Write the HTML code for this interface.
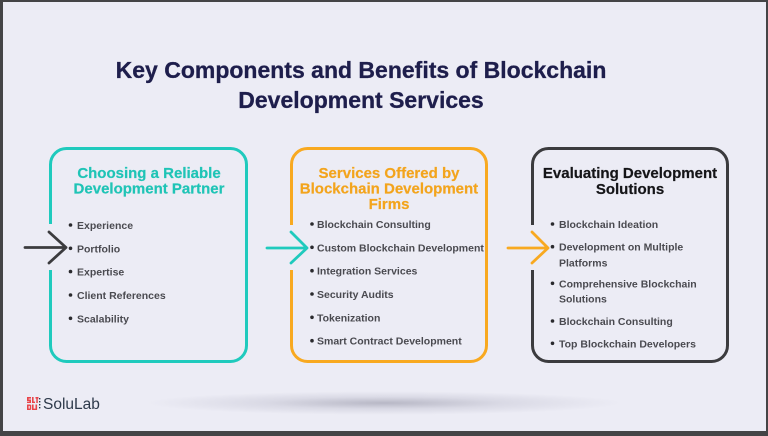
<!DOCTYPE html>
<html>
<head>
<meta charset="utf-8">
<style>
  html, body { margin:0; padding:0; }
  body { width:768px; height:436px; background:#444446; position:relative; overflow:hidden; }
  #frame { position:absolute; left:3px; top:2px; width:763px; height:429px; background:#ECECF5; overflow:hidden; }
  svg { position:absolute; left:0; top:0; }
  .shadow { position:absolute; left:144px; top:391px; width:480px; height:24px;
    background:radial-gradient(ellipse at center, rgba(140,140,158,0.55) 0%, rgba(170,170,188,0.28) 35%, rgba(236,236,245,0) 70%); }
</style>
</head>
<body>
<div id="frame"></div>
<div class="shadow"></div>
<svg width="768" height="436" viewBox="0 0 768 436" xmlns="http://www.w3.org/2000/svg">
  <!-- Title -->
  <g font-family="Liberation Sans, Arial, sans-serif" font-weight="bold" fill="#1E1E4C" font-size="23" text-anchor="middle" stroke="#1E1E4C" stroke-width="0.3">
    <text x="361" y="78">Key Components and Benefits of Blockchain</text>
    <text x="361" y="108">Development Services</text>
  </g>

  <!-- Boxes -->
  <rect x="50.5" y="148.5" width="196" height="213" rx="16" ry="16" fill="none" stroke="#1FCABD" stroke-width="3"/>
  <rect x="291.5" y="148.5" width="195" height="213" rx="16" ry="16" fill="none" stroke="#F8A920" stroke-width="3"/>
  <rect x="532.5" y="148.5" width="195" height="213" rx="16" ry="16" fill="none" stroke="#3B3B3E" stroke-width="3"/>

  <!-- gaps in left borders -->
  <rect x="47" y="224" width="8" height="46" fill="#ECECF5"/>
  <rect x="288" y="225" width="8" height="45" fill="#ECECF5"/>
  <rect x="529" y="225" width="8" height="45" fill="#ECECF5"/>

  <!-- Arrows -->
  <g fill="none" stroke-width="2.8" stroke-linecap="round" stroke-linejoin="round">
    <path d="M25 247.5 L66 247.5 M49 232 L66 247.5 L49 263" stroke="#3B3B3E"/>
    <path d="M267 248 L307 248 M291 232 L307 248 L291 263" stroke="#1FCABD"/>
    <path d="M508 248 L548 248 M532 232 L548 248 L532 263" stroke="#F8A920"/>
  </g>

  <!-- Headings -->
  <g font-family="Liberation Sans, Arial, sans-serif" font-weight="bold" font-size="15" text-anchor="middle">
    <text x="149" y="178" fill="#1FC4B6" stroke="#1FC4B6" stroke-width="0.2">Choosing a Reliable</text>
    <text x="149" y="193.5" fill="#1FC4B6" stroke="#1FC4B6" stroke-width="0.2">Development Partner</text>
    <text x="389" y="178" fill="#F3A41C" stroke="#F3A41C" stroke-width="0.2">Services Offered by</text>
    <text x="389" y="193.5" fill="#F3A41C" stroke="#F3A41C" stroke-width="0.2">Blockchain Development</text>
    <text x="389" y="209" fill="#F3A41C" stroke="#F3A41C" stroke-width="0.2">Firms</text>
    <text x="630" y="178" fill="#151518" stroke="#151518" stroke-width="0.2">Evaluating Development</text>
    <text x="630" y="194" fill="#151518" stroke="#151518" stroke-width="0.2">Solutions</text>
  </g>

  <!-- Items -->
  <g font-family="Liberation Sans, Arial, sans-serif" font-weight="bold" font-size="10.5" fill="#4A4A50">
    <text x="77" y="229">Experience</text>
    <text x="77" y="252.3">Portfolio</text>
    <text x="77" y="275.6">Expertise</text>
    <text x="77" y="299">Client References</text>
    <text x="77" y="322.3">Scalability</text>

    <text x="317" y="228">Blockchain Consulting</text>
    <text x="317" y="251.3">Custom Blockchain Development</text>
    <text x="317" y="274.7">Integration Services</text>
    <text x="317" y="298">Security Audits</text>
    <text x="317" y="321.3">Tokenization</text>
    <text x="317" y="344.7">Smart Contract Development</text>

    <text x="559" y="228">Blockchain Ideation</text>
    <text x="559" y="250.7">Development on Multiple</text>
    <text x="559" y="266.3">Platforms</text>
    <text x="559" y="287.3">Comprehensive Blockchain</text>
    <text x="559" y="302.3">Solutions</text>
    <text x="559" y="325">Blockchain Consulting</text>
    <text x="559" y="347.3">Top Blockchain Developers</text>
  </g>

  <!-- Bullets -->
  <g fill="#2A2A2E">
    <circle cx="70.5" cy="225" r="1.8"/>
    <circle cx="70.5" cy="248.3" r="1.8"/>
    <circle cx="70.5" cy="271.6" r="1.8"/>
    <circle cx="70.5" cy="295" r="1.8"/>
    <circle cx="70.5" cy="318.3" r="1.8"/>

    <circle cx="312" cy="224" r="1.8"/>
    <circle cx="312" cy="247.3" r="1.8"/>
    <circle cx="312" cy="270.7" r="1.8"/>
    <circle cx="312" cy="294" r="1.8"/>
    <circle cx="312" cy="317.3" r="1.8"/>
    <circle cx="312" cy="340.7" r="1.8"/>

    <circle cx="552.5" cy="224" r="1.8"/>
    <circle cx="552.5" cy="246.7" r="1.8"/>
    <circle cx="552.5" cy="283.3" r="1.8"/>
    <circle cx="552.5" cy="321" r="1.8"/>
    <circle cx="552.5" cy="343.3" r="1.8"/>
  </g>

  <!-- Logo -->
  <g fill="#E8454A">
    <rect x="27" y="397" width="4" height="1.6"/>
    <rect x="27" y="397" width="1.6" height="3.5"/>
    <rect x="27" y="399.5" width="4" height="1.5"/>
    <rect x="29.4" y="399.5" width="1.6" height="3.5"/>
    <rect x="27" y="401.6" width="4" height="1.4"/>
    <rect x="32" y="397" width="1.6" height="6"/>
    <rect x="32" y="401.6" width="3" height="1.4"/>
    <rect x="35.5" y="397" width="3" height="1.6"/>
    <rect x="36.3" y="397" width="1.5" height="6"/>
    <rect x="27" y="404.5" width="1.6" height="5.5"/>
    <rect x="27" y="404.5" width="3.6" height="1.4"/>
    <rect x="27" y="408.6" width="3.6" height="1.4"/>
    <rect x="29.8" y="405" width="1.4" height="4.5"/>
    <rect x="32" y="404.5" width="1.6" height="5.5"/>
    <rect x="35.5" y="404.5" width="1.6" height="5.5"/>
    <rect x="32" y="408.6" width="5" height="1.4"/>
  </g>
  <g fill="#2E3A4B">
    <rect x="39" y="398" width="1.4" height="1.4"/>
    <rect x="39" y="401" width="1.4" height="1.4"/>
    <rect x="39" y="404" width="1.4" height="1.4"/>
    <rect x="39" y="407" width="1.4" height="1.4"/>
  </g>
  <text x="43" y="409" font-family="Liberation Sans, Arial, sans-serif" font-size="15.5" fill="#2E3A4B">SoluLab</text>
</svg>
</body>
</html>
